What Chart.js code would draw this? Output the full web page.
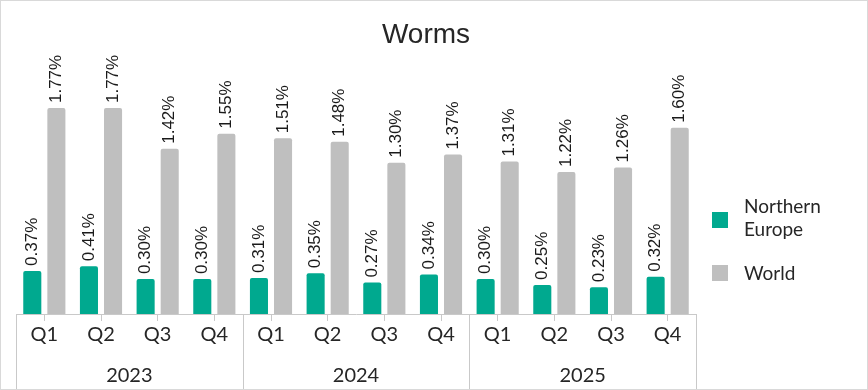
<!DOCTYPE html>
<html>
<head>
<meta charset="utf-8">
<script src="https://cdn.jsdelivr.net/npm/chart.js@4"></script>
<style>
    body { margin: 0; background: #fff; }
    #wrap { position: relative; width: 866px; height: 388px; border: 1px solid #d9d9d9; background: #fff; overflow: hidden; }
    #chart { position: absolute; left: -1px; top: -1px; }
    #title { position: absolute; left: 0; width: 850px; top: 19px; text-align: center; font: 28px "Liberation Sans", Arial, sans-serif; line-height: 28px; color: #262626; }
    .legend-item { position: absolute; left: 711px; font: 19px Lato, sans-serif; line-height: 23px; color: #262626; }
    .legend-box { position: absolute; left: 0; width: 16px; height: 16px; }
    .legend-text { position: absolute; left: 32px; white-space: nowrap; }
</style>
</head>
<body>
<div id="wrap">
    <canvas id="chart" width="868" height="390"></canvas>
    <div id="title">Worms</div>
    <div id="legend"></div>
</div>
<script>
const quarters = ['Q1', 'Q2', 'Q3', 'Q4', 'Q1', 'Q2', 'Q3', 'Q4', 'Q1', 'Q2', 'Q3', 'Q4'];
const years = ['2023', '2024', '2025'];
const northernEurope = [0.37, 0.41, 0.30, 0.30, 0.31, 0.35, 0.27, 0.34, 0.30, 0.25, 0.23, 0.32];
const world = [1.77, 1.77, 1.42, 1.55, 1.51, 1.48, 1.30, 1.37, 1.31, 1.22, 1.26, 1.60];

const teal = '#00a98f';
const grey = '#bfbfbf';
const lineGrey = '#c9c9c9';

// Legend built as html so that "Northern Europe" can wrap on two lines
const legendEl = document.getElementById('legend');
legendEl.innerHTML = `
    <div class="legend-item" style="top:193px">
        <div class="legend-box" style="top:18px;background:${teal}"></div>
        <div class="legend-text">Northern<br>Europe</div>
    </div>
    <div class="legend-item" style="top:260px">
        <div class="legend-box" style="top:4px;background:${grey}"></div>
        <div class="legend-text">World</div>
    </div>
`;

// Rotated value labels above each bar
const valueLabels = {
    id: 'valueLabels',
    afterDatasetsDraw(chart) {
        const ctx = chart.ctx;
        ctx.save();
        ctx.font = '17px "Liberation Sans", Arial, sans-serif';
        ctx.fillStyle = '#1a1a1a';
        ctx.textAlign = 'left';
        ctx.textBaseline = 'middle';
        chart.data.datasets.forEach((ds, i) => {
            chart.getDatasetMeta(i).data.forEach((bar, j) => {
                ctx.save();
                ctx.translate(bar.x, bar.y - 5);
                ctx.rotate(-Math.PI / 2);
                ctx.fillText(ds.data[j].toFixed(2) + '%', 0, 0);
                ctx.restore();
            });
        });
        ctx.restore();
    }
};

// Vertical separators between the year groups
const yearSeparators = {
    id: 'yearSeparators',
    afterDraw(chart) {
        const x = chart.scales.x;
        const x2 = chart.scales.x2;
        const ctx = chart.ctx;
        const per = quarters.length / years.length;
        const xs = [x.left];
        for (let k = 1; k < years.length; k++) {
            xs.push((x.getPixelForValue(k * per - 1) + x.getPixelForValue(k * per)) / 2);
        }
        xs.push(x.right);
        ctx.save();
        ctx.strokeStyle = lineGrey;
        ctx.lineWidth = 1;
        xs.forEach(px => {
            const p = Math.round(px) + 0.5;
            ctx.beginPath();
            ctx.moveTo(p, chart.chartArea.bottom);
            ctx.lineTo(p, x2.bottom);
            ctx.stroke();
        });
        ctx.restore();
    }
};

new Chart(document.getElementById('chart'), {
    type: 'bar',
    data: {
        labels: quarters,
        datasets: [
            { label: 'Northern Europe', data: northernEurope, backgroundColor: teal, borderRadius: 2, borderSkipped: 'bottom' },
            { label: 'World', data: world, backgroundColor: grey, borderRadius: 2, borderSkipped: 'bottom' }
        ]
    },
    plugins: [valueLabels, yearSeparators],
    options: {
        responsive: false,
        animation: false,
        categoryPercentage: 0.85,
        barPercentage: 0.75,
        layout: { padding: { left: 16, right: 172, top: 58, bottom: 0 } },
        plugins: {
            legend: { display: false },
            title: { display: false },
            tooltip: { enabled: false }
        },
        scales: {
            y: {
                display: false,
                min: 0,
                max: 2.2
            },
            x: {
                afterFit: s => { s.height = 38; },
                grid: { offset: false, drawOnChartArea: false, tickLength: 7, color: lineGrey },
                border: { color: lineGrey },
                ticks: { color: '#262626', font: { family: 'Lato', size: 20 }, padding: 2, maxRotation: 0 }
            },
            x2: {
                type: 'category',
                labels: years,
                position: 'bottom',
                afterFit: s => { s.height = 38; },
                grid: { display: false },
                border: { display: false },
                ticks: { color: '#262626', font: { family: 'Lato', size: 20 }, padding: 4, maxRotation: 0 }
            }
        }
    }
});
</script>
</body>
</html>
